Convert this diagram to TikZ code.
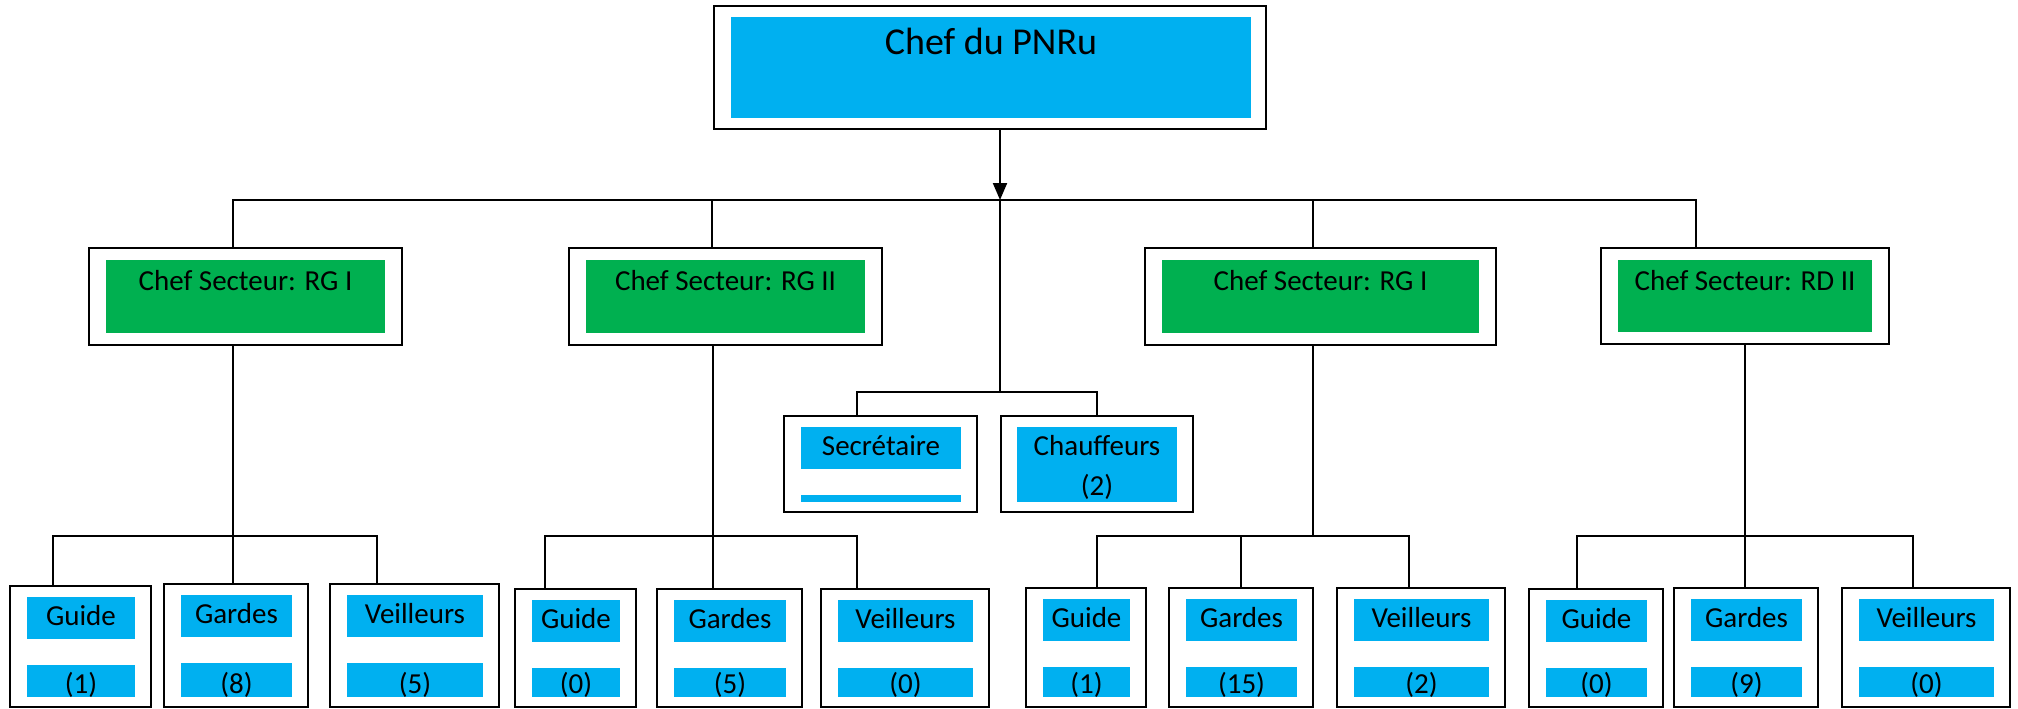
\documentclass[tikz,border=0pt]{standalone}
\usepackage{fontspec}
\setmainfont{Carlito}
\usetikzlibrary{fit,arrows.meta}
\definecolor{pnrublue}{HTML}{00B0F0}
\definecolor{pnrugreen}{HTML}{00B050}
\tikzset{
  unitbox/.style={draw, line width=2.2pt, inner sep=0pt, outer sep=0pt},
  bluepad/.style={fill=pnrublue, inner sep=0pt, outer sep=0pt},
  greenpad/.style={fill=pnrugreen, inner sep=0pt, outer sep=0pt},
  lbl/.style={inner sep=0pt, anchor=base, font=\fontsize{29}{35}\selectfont},
  link/.style={line width=2pt}
}
\begin{document}
\begin{tikzpicture}[x=1pt,y=-1pt]
\useasboundingbox (0,0) rectangle (2018,709);

% chef du parc
\node[unitbox, fit={(714,6) (1266,129)}] (chef) {};
\node[bluepad, fit={(731,17) (1251,118)}] (chef-in) {};
\node[lbl, font=\fontsize{38}{46}\selectfont] (chef-l) at (991,55) {Chef du PNRu};

% chefs de secteur
\foreach \n/\xa/\ya/\xb/\yb/\lab in {
    rg1/89/248/402/345/{Chef Secteur: RG I},
    rg2/569/248/882/345/{Chef Secteur: RG II},
    rg3/1145/248/1496/345/{Chef Secteur: RG I},
    rd2/1601/248/1889/344/{Chef Secteur: RD II}}
{
  \node[unitbox, fit={(\xa,\ya) (\xb,\yb)}] (\n) {};
  \node[greenpad, fit={(\xa+17,\ya+12) (\xb-17,\yb-12)}] (\n-in) {};
  \node[lbl] (\n-l) at ({(\xa+\xb)/2},290) {\lab};
}

% secretaire et chauffeurs
\node[unitbox, fit={(784,416) (977,512)}] (sec) {};
\node[bluepad, fit={(801,427) (961,469)}] (sec-in) {};
\node[bluepad, fit={(801,495) (961,502)}] (sec-bar) {};
\node[lbl] (sec-l) at (881,455) {Secrétaire};
\node[unitbox, fit={(1001,416) (1193,512)}] (chf) {};
\node[bluepad, fit={(1017,427) (1177,502)}] (chf-in) {};
\node[lbl] (chf-l) at (1097,455) {Chauffeurs};
\node[lbl] (chf-n) at (1097,495) {(2)};

% liaisons du haut
\coordinate (h0) at (1000,200);
\coordinate (h5) at (1000,392);
\draw[link, -{Triangle[length=17pt,width=14pt]}] (chef.south -| h0) -- (h0);
\draw[link] ([xshift=144pt]rg1.north west) |- (h0) -| ([xshift=95pt]rd2.north west);
\draw[link] ([xshift=143pt]rg2.north west) |- (h0);
\draw[link] ([xshift=168pt]rg3.north west) |- (h0);
\draw[link] (h0) -- (h5);
\draw[link] ([xshift=73pt]sec.north west) |- (h5) -| ([xshift=96pt]chf.north west);

% bus des equipes
\coordinate (b1) at (233,536);
\coordinate (b2) at (713,536);
\coordinate (b3) at (1313,536);
\coordinate (b4) at (1745,536);
\foreach \r/\b in {rg1/b1, rg2/b2, rg3/b3, rd2/b4}
  \draw[link] (\r.south -| \b) -- (\b);

% equipes
\foreach \n/\g/\xa/\ya/\xb/\sx/\lab/\num in {
    gd1/b1/10/586/151/43/Guide/(1), gr1/b1/164/584/308/69/Gardes/(8), vl1/b1/330/584/499/47/Veilleurs/(5),
    gd2/b2/515/589/636/30/Guide/(0), gr2/b2/657/589/802/56/Gardes/(5), vl2/b2/821/589/989/36/Veilleurs/(0),
    gd3/b3/1026/588/1146/71/Guide/(1), gr3/b3/1169/588/1313/72/Gardes/(15), vl3/b3/1337/588/1505/72/Veilleurs/(2),
    gd4/b4/1529/589/1663/48/Guide/(0), gr4/b4/1674/588/1818/71/Gardes/(9), vl4/b4/1842/588/2010/71/Veilleurs/(0)}
{
  \node[unitbox, fit={(\xa,\ya) (\xb,707)}] (\n) {};
  \node[bluepad, fit={(\xa+17,\ya+11) (\xb-16,\ya+53)}] (\n-t) {};
  \node[bluepad, fit={(\xa+17,\ya+79) (\xb-16,697)}] (\n-u) {};
  \node[lbl] (\n-a) at ({(\xa+\xb+1)/2},\ya+39) {\lab};
  \node[lbl] (\n-b) at ({(\xa+\xb+1)/2},693) {\num};
  \draw[link] ([xshift=\sx pt]\n.north west) |- (\g);
}
\end{tikzpicture}
\end{document}
